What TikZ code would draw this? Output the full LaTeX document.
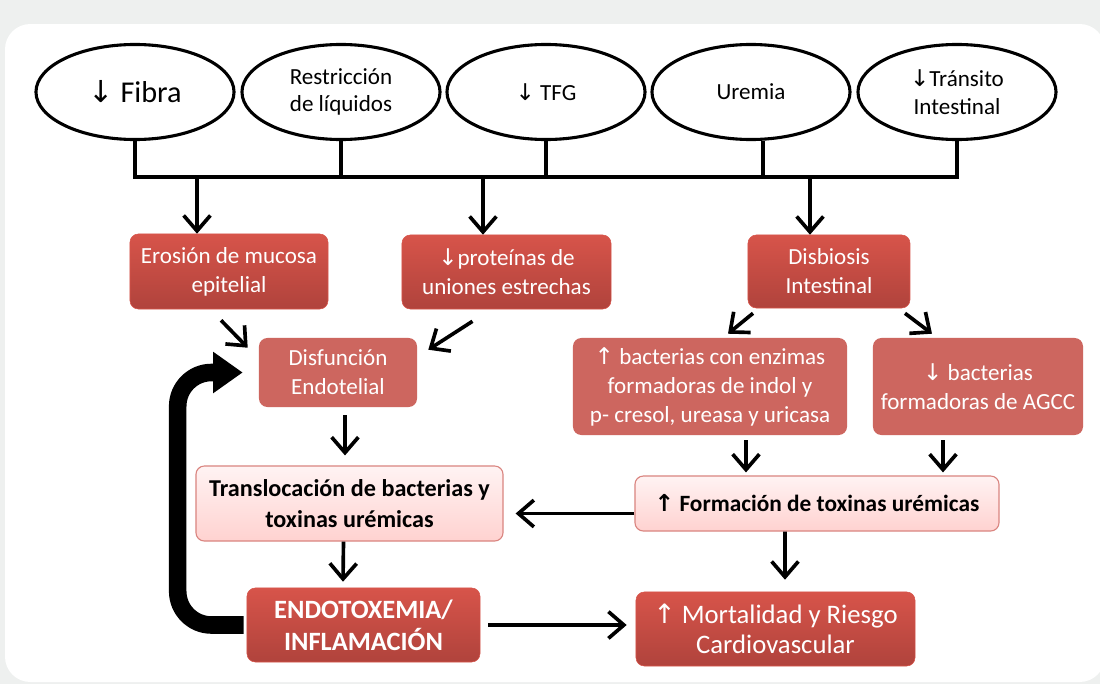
\documentclass[tikz,border=0pt]{standalone}
\usepackage{fontspec}
\setmainfont{Carlito}
\newfontfamily\arrowfont{DejaVu Sans}
\usetikzlibrary{shapes.geometric,arrows.meta}

\definecolor{fondo}{HTML}{EEF0EF}
\definecolor{rojoA}{HTML}{D7544A}
\definecolor{rojoB}{HTML}{B0433C}
\definecolor{rojoC}{HTML}{CD665F}
\definecolor{rosaA}{HTML}{FFF3F3}
\definecolor{rosaB}{HTML}{FFD2D0}
\definecolor{rosaBorde}{HTML}{DA8580}

\newcommand{\abajo}{{\arrowfont\char"2193}}
\newcommand{\arriba}{{\arrowfont\char"2191}}

\tikzset{
  causa/.style={draw, ellipse, line width=2.2pt, minimum width=4.95cm, minimum height=2.375cm, inner sep=0pt, align=center, font=\fontsize{16.4}{19.6}\selectfont},
  caja/.style={rounded corners=6pt, inner sep=0pt, align=center, font=\fontsize{16.4}{20.6}\selectfont},
  rojo/.style={caja, top color=rojoA, bottom color=rojoB, draw=rojoA, text=white},
  rojoclaro/.style={caja, fill=rojoC, text=white},
  rosa/.style={caja, top color=rosaA, bottom color=rosaB, draw=rosaBorde, line width=0.8pt, font=\bfseries\fontsize{17.2}{21.5}\selectfont},
  flecha/.style={line width=2.6pt, -{Straight Barb[length=11pt,width=19pt]}},
  bus/.style={line width=2.6pt},
  retro/.style={line width=12.5pt, rounded corners=24pt, -{Triangle[length=21pt,width=28pt]}}
}

\begin{document}
\begin{tikzpicture}[x=0.025cm, y=-0.025cm]
    % fondo y panel
    \fill[fondo] (0,0) rectangle (1100,684);
    \begin{scope}
      \clip (0,0) rectangle (1100,684);
      \fill[white, rounded corners=18pt] (5,24) rectangle (1105,682);
    \end{scope}
    \useasboundingbox (0,0) rectangle (1100,684);

    % causas
    \node[causa] (fibra) at (135,92) {\fontsize{21.5}{24}\selectfont\abajo{} Fibra};
    \node[causa] (restriccion) at (341,92) {Restricción\\de líquidos};
    \node[causa] (tfg) at (546,92) {\abajo{} TFG};
    \node[causa] (uremia) at (751,92) {Uremia};
    \node[causa] (transito) at (957,92) {\abajo{}Tránsito\\Intestinal};

    % barra comun
    \coordinate (busL) at (135,177);
    \coordinate (b1) at (197,177);
    \coordinate (b2) at (483,177);
    \coordinate (b3) at (810,177);
    \draw[bus] (fibra.south) -- (busL) -- (transito.south |- busL) -- (transito.south);
    \draw[bus] (restriccion.south) -- (restriccion.south |- busL);
    \draw[bus] (tfg.south) -- (tfg.south |- busL);
    \draw[bus] ([shift={(12,0)}]uremia.south) -- ([shift={(12,0)}]uremia.south |- busL);

    % cajas
    \node[rojo, minimum width=4.95cm, minimum height=1.875cm] (erosion) at (229,271.5) {Erosión de mucosa\\epitelial};
    \node[rojo, minimum width=5.225cm, minimum height=1.85cm] (proteinas) at (506.5,272) {\abajo{}proteínas de\\uniones estrechas};
    \node[rojo, minimum width=4.05cm, minimum height=1.825cm] (disbiosis) at (829,271.5) {Disbiosis\\Intestinal};
    \node[rojoclaro, minimum width=3.95cm, minimum height=1.725cm] (disfuncion) at (338,372.5) {Disfunción\\Endotelial};
    \node[rojoclaro, minimum width=6.85cm, minimum height=2.425cm] (enzimas) at (710,386.5) {\arriba{} bacterias con enzimas\\formadoras de indol y\\p- cresol, ureasa y uricasa};
    \node[rojoclaro, minimum width=5.25cm, minimum height=2.425cm] (agcc) at (978,386.5) {\abajo{} bacterias\\formadoras de AGCC};
    \node[rosa, minimum width=7.675cm, minimum height=1.875cm] (transloc) at (349.5,503.5) {Translocación de bacterias y\\toxinas urémicas};
    \node[rosa, minimum width=9.1cm, minimum height=1.375cm, font=\bfseries\fontsize{16.6}{21}\selectfont] (formacion) at (817,503.5) {\arriba{} Formación de toxinas urémicas};
    \node[rojo, minimum width=5.825cm, minimum height=1.85cm, font=\bfseries\fontsize{18.8}{22.7}\selectfont] (endo) at (363.5,625) {ENDOTOXEMIA/\\INFLAMACIÓN};
    \node[rojo, minimum width=6.975cm, minimum height=1.85cm, font=\fontsize{19}{21.3}\selectfont] (mort) at (775.5,629) {\arriba{} Mortalidad y Riesgo\\Cardiovascular};

    % flechas desde la barra
    \draw[flecha] (b1) -- (b1 |- erosion.north);
    \draw[flecha] (b2) -- (b2 |- proteinas.north);
    \draw[flecha] (b3) -- (b3 |- disbiosis.north);

    % flechas diagonales
    \draw[flecha] ([shift={(-8,11)}]erosion.south) -- ([shift={(-11,10)}]disfuncion.north west);
    \draw[flecha] ([shift={(-34,12)}]proteinas.south) -- ([shift={(11,12)}]disfuncion.north east);
    \draw[flecha] ([shift={(-76,5)}]disbiosis.south) -- ([shift={(18,-4)}]enzimas.north);
    \draw[flecha] ([shift={(76,5)}]disbiosis.south) -- ([shift={(-46,-4)}]agcc.north);

    % flechas verticales
    \draw[flecha] ([shift={(7,8)}]disfuncion.south) -- ([shift={(-4.5,-10)}]transloc.north);
    \draw[flecha] ([shift={(36,5)}]enzimas.south) -- ([shift={(-71,-3)}]formacion.north);
    \draw[flecha] ([shift={(-35,5)}]agcc.south) -- ([shift={(126,-3)}]formacion.north);
    \draw[flecha] ([shift={(-6,0)}]transloc.south) -- ([shift={(-20.5,-6)}]endo.north);
    \draw[flecha] ([shift={(-32,0)}]formacion.south) -- ([shift={(9.5,-12)}]mort.north);

    % flechas horizontales
    \draw[flecha] ([shift={(0,10)}]formacion.west) -- ([shift={(12,10)}]transloc.east);
    \draw[flecha] ([shift={(8,0)}]endo.east) -- ([shift={(-9,-4)}]mort.west);

    % retroalimentacion
    \draw[retro] ([shift={(-3,0)}]endo.west) -| ([shift={(-81,0)}]disfuncion.west) -- ([shift={(-16,0)}]disfuncion.west);
\end{tikzpicture}
\end{document}
